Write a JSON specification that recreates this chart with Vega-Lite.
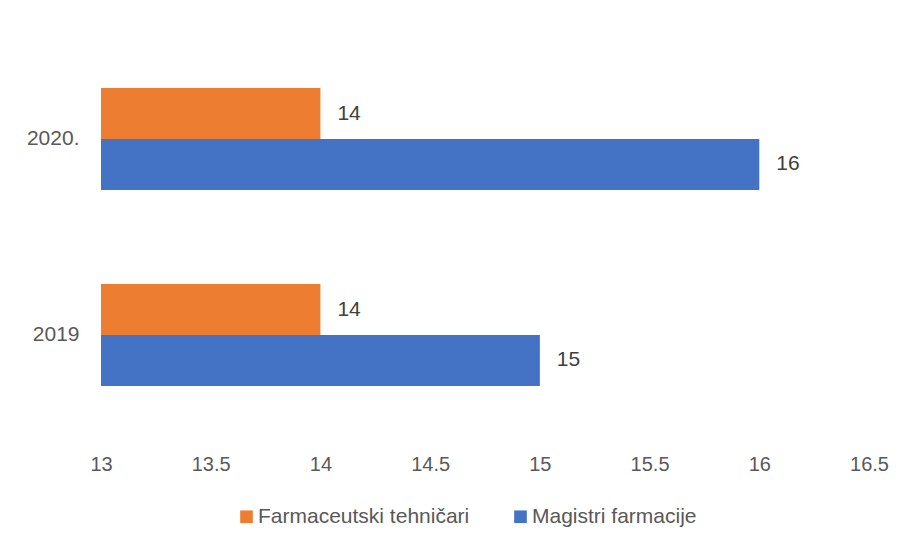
{
  "$schema": "https://vega.github.io/schema/vega-lite/v6.json",
  "autosize": "none",
  "width": 768,
  "height": 392,
  "padding": {"left": 101, "top": 41, "right": 39, "bottom": 114},
  "background": "white",
  "config": {"view": {"stroke": null}, "font": "Liberation Sans"},
  "data": {"values": [
    {"year": "2020.", "series": "Farmaceutski tehničari", "value": 14},
    {"year": "2020.", "series": "Magistri farmacije", "value": 16},
    {"year": "2019", "series": "Farmaceutski tehničari", "value": 14},
    {"year": "2019", "series": "Magistri farmacije", "value": 15}
  ]},
  "encoding": {
    "y": {"field": "year", "type": "nominal", "sort": ["2020.", "2019"],
      "scale": {"paddingInner": 0.48, "paddingOuter": 0.24},
      "axis": {"title": null, "domain": false, "ticks": false, "labelFontSize": 21, "labelColor": "#595959", "labelPadding": 22}},
    "yOffset": {"field": "series", "type": "nominal", "sort": ["Farmaceutski tehničari", "Magistri farmacije"]},
    "x": {"field": "value", "type": "quantitative",
      "scale": {"domain": [13, 16.5], "nice": false, "zero": false, "clamp": true},
      "axis": {"title": null, "domain": false, "ticks": false, "grid": false, "format": "~g", "values": [13, 13.5, 14, 14.5, 15, 15.5, 16, 16.5], "labelFontSize": 20, "labelColor": "#595959", "labelPadding": 21, "labelFlush": false}}
  },
  "layer": [
    {"mark": {"type": "bar"},
     "encoding": {
       "x2": {"datum": 13},
       "color": {"field": "series", "type": "nominal",
         "scale": {"domain": ["Farmaceutski tehničari", "Magistri farmacije"], "range": ["#ED7D31", "#4472C4"]},
         "legend": {"title": null, "orient": "none", "direction": "horizontal", "legendX": 135, "legendY": 465, "symbolType": "square", "symbolSize": 160, "symbolStrokeWidth": 0, "symbolOpacity": 1, "labelFontSize": 21, "labelColor": "#595959", "columnPadding": 40, "labelOffset": 1, "labelLimit": 400}}
     }},
    {"mark": {"type": "text", "align": "left", "dx": 17, "fontSize": 21, "color": "#404040"},
     "encoding": {"text": {"field": "value", "type": "quantitative"}}}
  ]
}
